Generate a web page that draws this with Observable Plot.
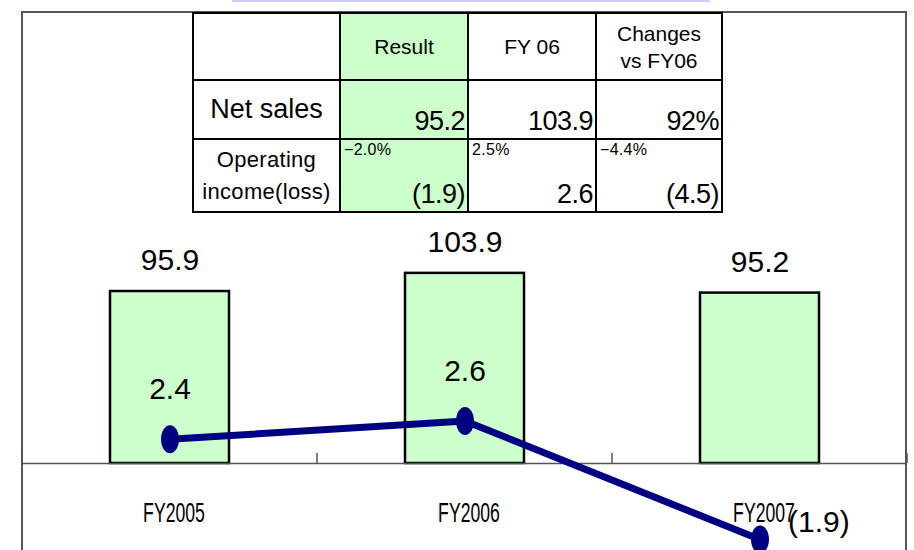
<!DOCTYPE html>
<html><head><meta charset="utf-8">
<script src="https://cdn.jsdelivr.net/npm/d3@7"></script>
<script src="https://cdn.jsdelivr.net/npm/@observablehq/plot@0.6"></script>
<style>
body{margin:0;background:#fff;}
#wrap{position:relative;width:914px;height:550px;overflow:hidden;font-family:"Liberation Sans",Arial,sans-serif;color:#000;}
#wrap svg{position:absolute;left:0;top:0;background:transparent;}
#topbar{position:absolute;left:232px;top:0;width:478px;height:2px;background:#ccccf5;}
#frame{position:absolute;left:21px;top:11px;width:882px;height:600px;border:2px solid #555;border-bottom:none;}
#tbl{position:absolute;left:192px;top:12px;border-collapse:collapse;table-layout:fixed;z-index:3;background:#fff;}
#tbl td{border:2px solid #000;padding:0;position:relative;overflow:hidden;}
#tbl td.res{background:#ccffcc;}
.hdr{font-size:21px;text-align:center;line-height:27px;}
.rowlab{font-size:27px;text-align:center;}
.rowlab2{font-size:22px;text-align:center;line-height:32px;letter-spacing:0.3px;}
.big{position:absolute;right:2px;bottom:1px;font-size:27px;letter-spacing:-0.5px;}
.small{position:absolute;left:3px;top:1px;font-size:16px;letter-spacing:0.3px;}
</style></head><body><div id="wrap"><div id="topbar"></div><div id="frame"></div></div>
<script>
// ---- data ----
const years = ["FY2005", "FY2006", "FY2007"];
const netSales = [95.9, 103.9, 95.2];
const opIncome = [2.4, 2.6, -1.9];
const tableColumns = ["Result", "FY 06", "Changes\nvs FY06"];
const tableRowLabels = ["Net sales", "Operating\nincome(loss)"];
const tableNetSales = ["95.2", "103.9", "92%"];
const tableOpIncome = ["(1.9)", "2.6", "(4.5)"];
const tableOpMargin = ["\u22122.0%", "2.5%", "\u22124.4%"];

const data = years.map((y, i) => ({year: y, sales: netSales[i], op: opIncome[i]}));
const wrap = document.getElementById("wrap");
const W = 914, H = 550;
const salesMin = 20;
const fmtParen = v => v < 0 ? `(${Math.abs(v).toFixed(1)})` : v.toFixed(1);
const FONT = "Liberation Sans, Arial, sans-serif";

const xScale = {type: "band", domain: years, padding: 0, axis: null};

// tick marks at category boundaries
const boundaryTicks = (index, scales) => {
  const x = scales.x, y = scales.y;
  const bw = x.bandwidth ? x.bandwidth() : (x(years[1]) - x(years[0]));
  const xs = years.map(v => x(v)).concat([x(years[years.length - 1]) + bw]);
  const y0 = y(salesMin);
  const g = d3.create("svg:g");
  for (const xv of xs) {
    g.append("line").attr("x1", xv).attr("x2", xv).attr("y1", y0).attr("y2", y0 - 10)
      .attr("stroke", "#555").attr("stroke-width", 1.5);
  }
  return g.node();
};

const bars = Plot.plot({
  width: W, height: H, marginLeft: 22, marginRight: 7, marginTop: 0, marginBottom: 0,
  style: {background: "transparent", overflow: "visible"},
  x: xScale,
  y: {domain: [salesMin, 110], range: [463, 463 - 90 * 2.266], axis: null},
  marks: [
    Plot.barY(data, {x: "year", y1: salesMin, y2: "sales", fill: "#ccffcc", stroke: "#000", strokeWidth: 2.5, insetLeft: 88, insetRight: 88}),
    Plot.text(data, {x: "year", y: "sales", text: d => d.sales.toFixed(1), dy: -31, fontSize: 30, fontFamily: FONT, fill: "#000"}),
    Plot.ruleY([salesMin], {stroke: "#555", strokeWidth: 1.5}),
    boundaryTicks,
    Plot.text(years, {x: d => d, y: () => salesMin, text: d => d, dy: 50, dx: 4, fontSize: 28, fontFamily: FONT, fill: "#000"})
  ]
});
// condense category labels horizontally (narrow gothic look)
d3.select(bars).selectAll("text").filter(function() { return years.includes(this.textContent); })
  .each(function() {
    const t = d3.select(this);
    const tr = t.attr("transform") || "";
    t.attr("transform", tr + " scale(0.63,1)");
  });
wrap.appendChild(bars);

// ellipse marker
const ellipse = {
  draw(ctx) {
    const rx = 9, ry = 14, k = 0.5523;
    ctx.moveTo(rx, 0);
    ctx.bezierCurveTo(rx, ry * k, rx * k, ry, 0, ry);
    ctx.bezierCurveTo(-rx * k, ry, -rx, ry * k, -rx, 0);
    ctx.bezierCurveTo(-rx, -ry * k, -rx * k, -ry, 0, -ry);
    ctx.bezierCurveTo(rx * k, -ry, rx, -ry * k, rx, 0);
    ctx.closePath();
  }
};

const line = Plot.plot({
  width: W, height: H, marginLeft: 22, marginRight: 7, marginTop: 0, marginBottom: 0,
  style: {background: "transparent"},
  x: xScale,
  y: {type: "pow", exponent: 3, domain: d3.extent(opIncome), range: [539, 420.5], axis: null},
  marks: [
    Plot.line(data, {x: "year", y: "op", stroke: "#000080", strokeWidth: 7}),
    Plot.dot(data, {x: "year", y: "op", symbol: ellipse, fill: "#000080", stroke: "none"}),
    Plot.text(data.filter(d => d.op >= 0), {x: "year", y: "op", text: d => fmtParen(d.op), dy: -50, fontSize: 30, fontFamily: FONT, fill: "#000"}),
    Plot.text(data.filter(d => d.op < 0), {x: "year", y: "op", text: d => fmtParen(d.op), dx: 28, dy: -17, textAnchor: "start", fontSize: 30, fontFamily: FONT, fill: "#000"})
  ]
});
wrap.appendChild(line);

// ---- table ----
const colW = [147, 128, 128, 126];
const rowH = [67, 59, 73];
const tbl = document.createElement("table");
tbl.id = "tbl";
const cg = document.createElement("colgroup");
colW.forEach(w => { const c = document.createElement("col"); c.style.width = w + "px"; cg.appendChild(c); });
tbl.appendChild(cg);
tbl.style.width = d3.sum(colW) + "px";
const html = s => s.split("\n").join("<br>");
// header
let tr = tbl.insertRow();
tr.style.height = rowH[0] + "px";
let td = tr.insertCell(); td.innerHTML = "";
tableColumns.forEach((c, i) => {
  const cell = tr.insertCell();
  cell.className = "hdr" + (i === 0 ? " res" : "");
  cell.innerHTML = html(c);
});
// net sales
tr = tbl.insertRow();
tr.style.height = rowH[1] + "px";
td = tr.insertCell(); td.className = "rowlab"; td.innerHTML = html(tableRowLabels[0]);
tableNetSales.forEach((v, i) => {
  const cell = tr.insertCell();
  if (i === 0) cell.className = "res";
  cell.innerHTML = `<span class="big">${v}</span>`;
});
// operating income
tr = tbl.insertRow();
tr.style.height = rowH[2] + "px";
td = tr.insertCell(); td.className = "rowlab2"; td.innerHTML = html(tableRowLabels[1]);
tableOpIncome.forEach((v, i) => {
  const cell = tr.insertCell();
  if (i === 0) cell.className = "res";
  cell.innerHTML = `<span class="small">${tableOpMargin[i]}</span><span class="big">${v}</span>`;
});
wrap.appendChild(tbl);
</script>
</body></html>
